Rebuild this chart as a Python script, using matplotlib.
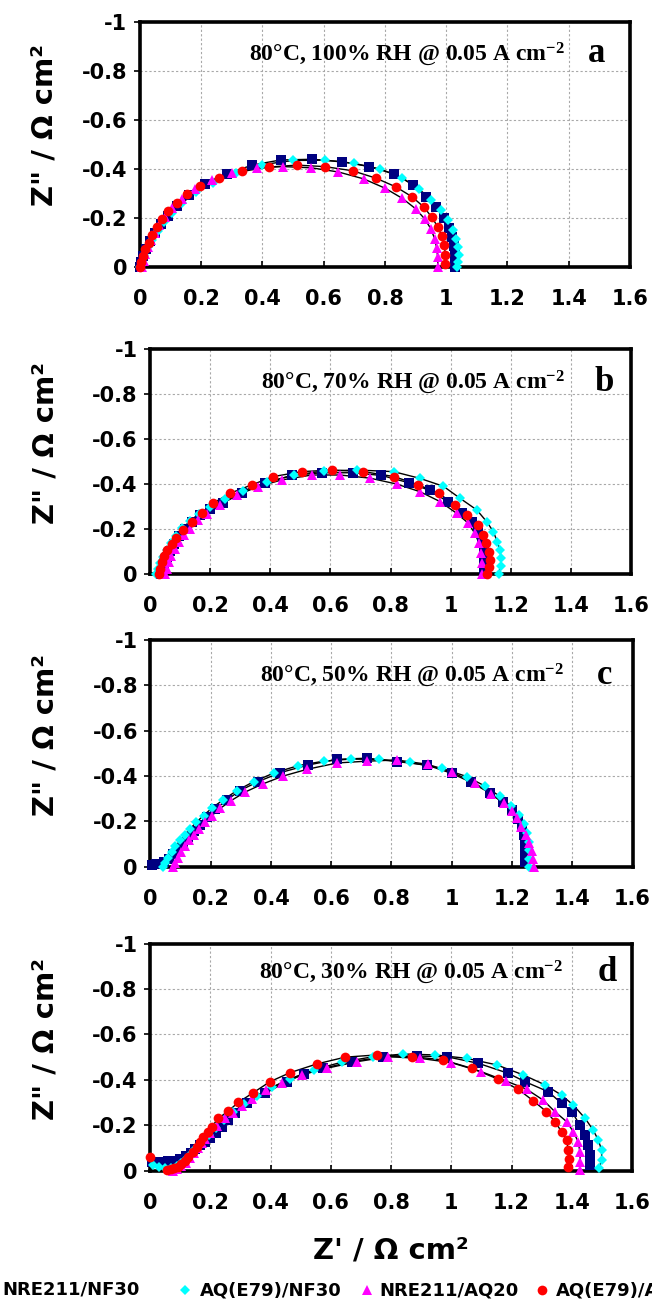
import matplotlib
matplotlib.use("Agg")
import matplotlib.pyplot as plt
from matplotlib.lines import Line2D

plt.rcParams["mathtext.fontset"] = "custom"
plt.rcParams["mathtext.rm"] = "Liberation Serif:bold"
plt.rcParams["mathtext.bf"] = "Liberation Serif:bold"
plt.rcParams["mathtext.it"] = "Liberation Serif:bold:italic"

SANS = ["DejaVu Sans"]
SERIF = ["Liberation Serif", "DejaVu Serif"]

# ---------------------------------------------------------------- metadata
SAMPLES = ["NRE211/NF30", "AQ(E79)/NF30", "NRE211/AQ20", "AQ(E79)/AQ20"]
COLORS = ["#000080", "#00FFFF", "#FF00FF", "#FF0000"]
MARKERS = ["s", "D", "^", "o"]
MSIZES = [6.5, 5.5, 7.5, 7.0]

CONDITIONS = ["80°C, 100% RH @ 0.05 A cm$^{-2}$",
              "80°C, 70% RH @ 0.05 A cm$^{-2}$",
              "80°C, 50% RH @ 0.05 A cm$^{-2}$",
              "80°C, 30% RH @ 0.05 A cm$^{-2}$"]
PANEL_LETTERS = ["a", "b", "c", "d"]

X_TICKS = [0, 0.2, 0.4, 0.6, 0.8, 1.0, 1.2, 1.4, 1.6]
X_TICK_LABELS = ["0", "0.2", "0.4", "0.6", "0.8", "1", "1.2", "1.4", "1.6"]
Y_TICKS = [-1, -0.8, -0.6, -0.4, -0.2, 0]
Y_TICK_LABELS = ["-1", "-0.8", "-0.6", "-0.4", "-0.2", "0"]

# ------------------------------------------------- impedance data (Z', -Z'')
# 100 % RH
RH100_NRE_NF = [(0.000, 0.000), (0.004, 0.020), (0.010, 0.045), (0.020, 0.075), (0.033, 0.105),
                (0.049, 0.140), (0.068, 0.175), (0.090, 0.210), (0.120, 0.250), (0.160, 0.295),
                (0.213, 0.339), (0.284, 0.380), (0.366, 0.416), (0.459, 0.437), (0.563, 0.440),
                (0.661, 0.430), (0.748, 0.410), (0.830, 0.380), (0.893, 0.335), (0.934, 0.287),
                (0.968, 0.246), (0.993, 0.200), (1.010, 0.160), (1.020, 0.124), (1.026, 0.086),
                (1.029, 0.052), (1.030, 0.022), (1.030, 0.000)]
RH100_AQ_NF = [(0.000, 0.000), (0.006, 0.022), (0.014, 0.050), (0.026, 0.080), (0.040, 0.112),
               (0.058, 0.148), (0.080, 0.185), (0.106, 0.222), (0.138, 0.262), (0.182, 0.305),
               (0.240, 0.345), (0.312, 0.385), (0.400, 0.418), (0.500, 0.435), (0.605, 0.436),
               (0.700, 0.423), (0.785, 0.400), (0.855, 0.365), (0.910, 0.320), (0.950, 0.275),
               (0.982, 0.232), (1.005, 0.190), (1.022, 0.150), (1.033, 0.114), (1.039, 0.080),
               (1.041, 0.048), (1.040, 0.020), (1.036, 0.000)]
RH100_NRE_AQ = [(0.008, 0.000), (0.012, 0.025), (0.018, 0.052), (0.026, 0.080), (0.036, 0.110),
                (0.048, 0.140), (0.063, 0.172), (0.082, 0.205), (0.106, 0.240), (0.138, 0.278),
                (0.180, 0.318), (0.235, 0.355), (0.302, 0.385), (0.382, 0.405), (0.468, 0.410),
                (0.560, 0.405), (0.648, 0.388), (0.730, 0.360), (0.800, 0.322), (0.857, 0.280),
                (0.900, 0.238), (0.930, 0.196), (0.950, 0.156), (0.962, 0.116), (0.969, 0.078),
                (0.972, 0.040), (0.973, 0.000)]
RH100_AQ_AQ = [(0.000, 0.000), (0.004, 0.022), (0.010, 0.046), (0.018, 0.072), (0.028, 0.100),
               (0.040, 0.130), (0.054, 0.162), (0.071, 0.195), (0.092, 0.227), (0.120, 0.262),
               (0.153, 0.297), (0.197, 0.332), (0.257, 0.362), (0.333, 0.390), (0.420, 0.408),
               (0.512, 0.416), (0.603, 0.410), (0.694, 0.393), (0.770, 0.363), (0.836, 0.327),
               (0.888, 0.287), (0.927, 0.245), (0.953, 0.203), (0.973, 0.163), (0.986, 0.125),
               (0.994, 0.088), (0.997, 0.050), (0.996, 0.012)]

# 70 % RH
RH70_NRE_NF = [(0.035, 0.000), (0.040, 0.022), (0.047, 0.048), (0.056, 0.076), (0.067, 0.105),
               (0.080, 0.135), (0.096, 0.168), (0.115, 0.200), (0.138, 0.232), (0.165, 0.262),
               (0.200, 0.290), (0.244, 0.318), (0.305, 0.358), (0.383, 0.405), (0.471, 0.438),
               (0.571, 0.450), (0.676, 0.450), (0.770, 0.438), (0.860, 0.406), (0.930, 0.372),
               (0.990, 0.322), (1.037, 0.272), (1.070, 0.230), (1.092, 0.188), (1.104, 0.145),
               (1.110, 0.100), (1.112, 0.055), (1.112, 0.012)]
RH70_AQ_NF = [(0.020, 0.000), (0.026, 0.022), (0.034, 0.048), (0.044, 0.076), (0.056, 0.106),
              (0.070, 0.138), (0.087, 0.170), (0.108, 0.203), (0.133, 0.236), (0.163, 0.268),
              (0.200, 0.300), (0.248, 0.335), (0.310, 0.370), (0.390, 0.408), (0.480, 0.440),
              (0.580, 0.458), (0.690, 0.462), (0.810, 0.455), (0.898, 0.425), (0.976, 0.390),
              (1.031, 0.337), (1.087, 0.285), (1.120, 0.233), (1.142, 0.189), (1.155, 0.145),
              (1.164, 0.108), (1.168, 0.070), (1.166, 0.035), (1.160, 0.000)]
RH70_NRE_AQ = [(0.050, 0.000), (0.055, 0.025), (0.062, 0.052), (0.071, 0.082), (0.082, 0.112),
               (0.096, 0.142), (0.112, 0.172), (0.132, 0.200), (0.161, 0.240), (0.190, 0.268),
               (0.233, 0.307), (0.288, 0.352), (0.360, 0.389), (0.438, 0.418), (0.538, 0.440),
               (0.632, 0.440), (0.732, 0.426), (0.820, 0.400), (0.898, 0.366), (0.965, 0.322),
               (1.020, 0.270), (1.059, 0.226), (1.080, 0.182), (1.095, 0.137), (1.101, 0.092),
               (1.104, 0.048), (1.104, 0.000)]
RH70_AQ_AQ = [(0.030, 0.000), (0.034, 0.025), (0.040, 0.052), (0.048, 0.080), (0.058, 0.108),
              (0.072, 0.135), (0.088, 0.160), (0.111, 0.196), (0.139, 0.233), (0.172, 0.270),
              (0.210, 0.315), (0.266, 0.359), (0.338, 0.396), (0.410, 0.433), (0.505, 0.455),
              (0.604, 0.462), (0.710, 0.455), (0.812, 0.433), (0.893, 0.396), (0.960, 0.359),
              (1.015, 0.307), (1.053, 0.263), (1.092, 0.219), (1.108, 0.174), (1.118, 0.138),
              (1.128, 0.100), (1.130, 0.065), (1.128, 0.030), (1.122, 0.000)]

# 50 % RH
RH50_NRE_NF = [(0.005, 0.008), (0.018, 0.010), (0.032, 0.012), (0.046, 0.020), (0.060, 0.036),
               (0.075, 0.056), (0.091, 0.080), (0.108, 0.106), (0.126, 0.132), (0.145, 0.158),
               (0.164, 0.184), (0.187, 0.221), (0.214, 0.253), (0.253, 0.294), (0.297, 0.336),
               (0.358, 0.376), (0.430, 0.415), (0.524, 0.449), (0.619, 0.474), (0.718, 0.479),
               (0.818, 0.464), (0.917, 0.449), (1.000, 0.412), (1.065, 0.372), (1.128, 0.324),
               (1.170, 0.284), (1.200, 0.250), (1.219, 0.212), (1.233, 0.175), (1.239, 0.140),
               (1.242, 0.103), (1.244, 0.062), (1.244, 0.022)]
RH50_AQ_NF = [(0.040, 0.000), (0.048, 0.018), (0.058, 0.040), (0.070, 0.064), (0.083, 0.090),
              (0.098, 0.116), (0.114, 0.142), (0.132, 0.168), (0.152, 0.196), (0.176, 0.226),
              (0.205, 0.260), (0.242, 0.296), (0.287, 0.336), (0.342, 0.375), (0.410, 0.414),
              (0.490, 0.446), (0.575, 0.466), (0.665, 0.475), (0.760, 0.474), (0.860, 0.460),
              (0.967, 0.434), (1.050, 0.398), (1.110, 0.356), (1.160, 0.310), (1.196, 0.268),
              (1.222, 0.228), (1.240, 0.188), (1.250, 0.148), (1.255, 0.110), (1.257, 0.072),
              (1.257, 0.036), (1.255, 0.000)]
RH50_NRE_AQ = [(0.075, 0.000), (0.082, 0.018), (0.091, 0.040), (0.102, 0.064), (0.114, 0.090),
               (0.128, 0.116), (0.143, 0.142), (0.160, 0.168), (0.180, 0.196), (0.204, 0.226),
               (0.232, 0.258), (0.268, 0.292), (0.315, 0.330), (0.372, 0.365), (0.440, 0.400),
               (0.520, 0.430), (0.620, 0.458), (0.720, 0.466), (0.818, 0.471), (0.920, 0.452),
               (1.000, 0.418), (1.078, 0.368), (1.130, 0.322), (1.172, 0.280), (1.200, 0.246),
               (1.217, 0.214), (1.230, 0.177), (1.245, 0.140), (1.258, 0.104), (1.266, 0.068),
               (1.270, 0.034), (1.272, 0.000)]

# 30 % RH
RH30_NRE_NF = [(0.005, 0.040), (0.020, 0.040), (0.040, 0.040), (0.060, 0.042), (0.080, 0.045),
               (0.100, 0.052), (0.118, 0.064), (0.135, 0.080), (0.150, 0.096), (0.165, 0.112),
               (0.182, 0.128), (0.199, 0.143), (0.218, 0.166), (0.238, 0.194), (0.258, 0.222),
               (0.282, 0.253), (0.321, 0.297), (0.382, 0.341), (0.454, 0.392), (0.510, 0.425),
               (0.575, 0.451), (0.669, 0.480), (0.774, 0.502), (0.885, 0.505), (0.985, 0.502),
               (1.090, 0.473), (1.189, 0.429), (1.245, 0.392), (1.322, 0.348), (1.366, 0.297),
               (1.400, 0.260), (1.427, 0.201), (1.444, 0.157), (1.455, 0.113), (1.460, 0.069),
               (1.460, 0.025)]
RH30_AQ_NF = [(0.010, 0.025), (0.030, 0.015), (0.050, 0.012), (0.070, 0.014), (0.088, 0.022),
              (0.104, 0.036), (0.118, 0.052), (0.132, 0.070), (0.146, 0.090), (0.160, 0.110),
              (0.176, 0.132), (0.195, 0.158), (0.218, 0.190), (0.245, 0.224), (0.276, 0.258),
              (0.312, 0.294), (0.355, 0.330), (0.405, 0.368), (0.465, 0.405), (0.545, 0.445),
              (0.636, 0.478), (0.740, 0.502), (0.841, 0.514), (0.946, 0.510), (1.051, 0.495),
              (1.151, 0.466), (1.239, 0.422), (1.311, 0.378), (1.366, 0.333), (1.405, 0.289),
              (1.444, 0.231), (1.471, 0.179), (1.488, 0.135), (1.499, 0.091), (1.499, 0.048),
              (1.490, 0.010)]
RH30_NRE_AQ = [(0.075, 0.000), (0.090, 0.008), (0.104, 0.020), (0.118, 0.036), (0.132, 0.056),
               (0.146, 0.078), (0.160, 0.100), (0.172, 0.120), (0.183, 0.140), (0.199, 0.165),
               (0.221, 0.196), (0.250, 0.230), (0.275, 0.256), (0.304, 0.285), (0.340, 0.318),
               (0.385, 0.355), (0.437, 0.385), (0.503, 0.422), (0.586, 0.451), (0.686, 0.480),
               (0.791, 0.502), (0.896, 0.495), (1.000, 0.476), (1.100, 0.436), (1.180, 0.396),
               (1.250, 0.359), (1.305, 0.311), (1.344, 0.260), (1.383, 0.216), (1.405, 0.172),
               (1.421, 0.128), (1.427, 0.084), (1.428, 0.040), (1.426, 0.005)]
RH30_AQ_AQ = [(0.000, 0.062), (0.055, 0.005), (0.068, 0.006), (0.080, 0.010), (0.092, 0.018),
              (0.103, 0.028), (0.115, 0.045), (0.127, 0.062), (0.141, 0.084), (0.155, 0.106),
              (0.166, 0.128), (0.177, 0.150), (0.191, 0.172), (0.205, 0.194), (0.227, 0.231),
              (0.260, 0.263), (0.293, 0.301), (0.343, 0.344), (0.398, 0.392), (0.465, 0.432),
              (0.553, 0.470), (0.647, 0.500), (0.752, 0.510), (0.868, 0.503), (0.973, 0.488),
              (1.068, 0.451), (1.156, 0.403), (1.222, 0.359), (1.272, 0.308), (1.316, 0.260),
              (1.344, 0.216), (1.366, 0.172), (1.383, 0.135), (1.388, 0.091), (1.390, 0.050),
              (1.388, 0.015)]

PANELS = [
    [RH100_NRE_NF, RH100_AQ_NF, RH100_NRE_AQ, RH100_AQ_AQ],
    [RH70_NRE_NF, RH70_AQ_NF, RH70_NRE_AQ, RH70_AQ_AQ],
    [RH50_NRE_NF, RH50_AQ_NF, RH50_NRE_AQ, None],
    [RH30_NRE_NF, RH30_AQ_NF, RH30_NRE_AQ, RH30_AQ_AQ],
]

# ------------------------------------------------------------------ layout
FIG_W, FIG_H, DPI = 652, 1311, 100
AX_RECTS = [
    [0.2147, 0.7963, 0.7515, 0.1869],
    [0.2301, 0.5620, 0.7377, 0.1720],
    [0.2308, 0.3389, 0.7393, 0.1728],
    [0.2301, 0.1070, 0.7393, 0.1732],
]
NOTE_POS = [(1.386, -0.87), (1.380, -0.85), (1.372, -0.845), (1.371, -0.872)]
LETTER_X = [1.490, 1.512, 1.506, 1.519]

fig = plt.figure(figsize=(FIG_W / DPI, FIG_H / DPI), dpi=DPI)
fig.patch.set_facecolor("white")

axes = []
for i, rect in enumerate(AX_RECTS):
    ax = fig.add_axes(rect)
    axes.append(ax)
    ax.set_xlim(0, 1.6)
    ax.set_ylim(0, -1)

    ax.grid(True, color="#a8a8a8", linestyle=(0, (2, 2)), linewidth=0.8)
    ax.set_axisbelow(True)

    for j, series in enumerate(PANELS[i]):
        if series is None:
            continue
        zr = [p[0] for p in series]
        zi = [-p[1] for p in series]
        ax.plot(zr, zi, color="black", linewidth=1.0, zorder=2, clip_on=False)
        ax.plot(zr, zi, linestyle="none", marker=MARKERS[j], markersize=MSIZES[j],
                color=COLORS[j], markeredgewidth=0, zorder=3 + j, clip_on=False)

    ax.set_xticks(X_TICKS)
    ax.set_xticklabels(X_TICK_LABELS)
    ax.set_yticks(Y_TICKS)
    ax.set_yticklabels(Y_TICK_LABELS)
    ax.tick_params(axis="x", direction="in", length=4, width=1.2, pad=16,
                   labelsize=15)
    ax.tick_params(axis="y", direction="out", length=4, width=1.2, pad=5,
                   labelsize=15)
    for lab in ax.get_xticklabels() + ax.get_yticklabels():
        lab.set_fontweight("bold")
        lab.set_family(SANS)

    for sp in ax.spines.values():
        sp.set_linewidth(2.6)
        sp.set_color("black")

    ax.set_ylabel('Z" / Ω cm²', fontsize=21, fontweight="bold", family=SANS)
    left, width = rect[0], rect[2]
    ax.yaxis.set_label_coords((45 / FIG_W - left) / width, 0.58)
    ax.yaxis.label.set_verticalalignment("center")

    nx, ny = NOTE_POS[i]
    ax.text(nx, ny, CONDITIONS[i], ha="right", va="center", fontsize=17,
            fontweight="bold", family=SERIF, zorder=10)
    ax.text(LETTER_X[i], ny, PANEL_LETTERS[i], ha="center", va="center",
            fontsize=25, fontweight="bold", family=SERIF, zorder=10)

axes[-1].set_xlabel("Z' / Ω cm²", fontsize=21, fontweight="bold", family=SANS)
axes[-1].xaxis.set_label_coords(0.5, -0.35)
axes[-1].xaxis.label.set_verticalalignment("center")

# ------------------------------------------------------------------ legend
LEG_Y = 1 - 1290 / FIG_H
LEG_MARKER_X = [-12, 185, 367, 542]
LEG_TEXT_X = [2, 200, 379, 556]
for j, name in enumerate(SAMPLES):
    fig.add_artist(Line2D([LEG_MARKER_X[j] / FIG_W], [LEG_Y], transform=fig.transFigure,
                          linestyle="none", marker=MARKERS[j], markersize=MSIZES[j],
                          color=COLORS[j], markeredgewidth=0))
    fig.text(LEG_TEXT_X[j] / FIG_W, LEG_Y, name, ha="left", va="center",
             fontsize=13, fontweight="bold", family=SANS)

fig.savefig("out.png", dpi=DPI)
